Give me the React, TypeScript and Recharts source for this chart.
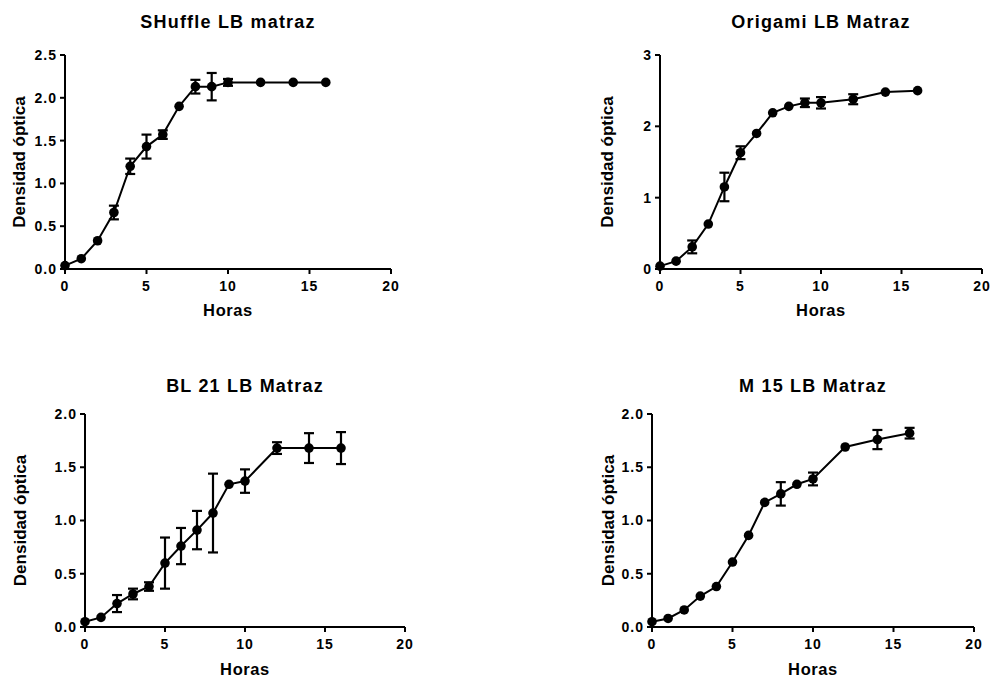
import React from 'react';
import { LineChart, Line, XAxis, YAxis, ErrorBar, Label } from 'recharts';

const hours = [0, 1, 2, 3, 4, 5, 6, 7, 8, 9, 10, 12, 14, 16];
const xTicks = [0, 5, 10, 15, 20];

const shuffleOD = [0.04, 0.12, 0.33, 0.66, 1.2, 1.43, 1.57, 1.9, 2.13, 2.13, 2.18, 2.18, 2.18, 2.18];
const shuffleErr = [null, null, null, 0.08, 0.09, 0.14, 0.05, null, 0.08, 0.16, 0.04, null, null, null];

const origamiOD = [0.04, 0.11, 0.31, 0.63, 1.15, 1.63, 1.9, 2.19, 2.28, 2.33, 2.33, 2.38, 2.48, 2.5];
const origamiErr = [null, null, 0.09, null, 0.2, 0.09, null, null, null, 0.06, 0.08, 0.07, null, null];

const bl21OD = [0.05, 0.09, 0.22, 0.31, 0.38, 0.6, 0.76, 0.91, 1.07, 1.34, 1.37, 1.68, 1.68, 1.68];
const bl21Err = [null, null, 0.08, 0.05, 0.04, 0.24, 0.17, 0.18, 0.37, null, 0.11, 0.055, 0.14, 0.15];

const m15OD = [0.05, 0.08, 0.16, 0.29, 0.38, 0.61, 0.86, 1.17, 1.25, 1.34, 1.39, 1.69, 1.76, 1.82];
const m15Err = [null, null, null, null, null, null, null, null, 0.11, null, 0.06, null, 0.09, 0.05];

const titles = ['SHuffle LB matraz', 'Origami LB Matraz', 'BL 21 LB Matraz', 'M 15 LB Matraz'];
const yLabel = 'Densidad óptica';
const xLabel = 'Horas';

const FONT = '"Liberation Sans", Arial, Helvetica, sans-serif';

type PanelProps = {
  title: string;
  od: number[];
  err: (number | null)[];
  yDomain: [number, number];
  yTicks: number[];
  decimals: number;
  left: number;
  top: number;
  width: number;
  height: number;
  yAxisWidth: number;
  marginTop: number;
  marginRight: number;
  xAxisHeight: number;
  marginBottom: number;
  yLabelOffset: number;
  titleTop: number;
};

function Panel(p: PanelProps) {
  const data = hours.map((h, i) => ({ x: h, y: p.od[i], e: p.err[i] }));
  const tickStyle = { fill: '#000', fontWeight: 700, fontSize: 14, fontFamily: FONT, letterSpacing: 1 };
  const plotLeft = p.yAxisWidth;
  const plotWidth = p.width - p.yAxisWidth - p.marginRight;
  return (
    <div style={{ position: 'absolute', left: p.left, top: p.top, width: p.width, height: p.height }}>
      <div
        style={{
          position: 'absolute',
          left: plotLeft - 20,
          width: plotWidth + 40,
          top: p.titleTop,
          textAlign: 'center',
          fontFamily: FONT,
          fontWeight: 700,
          fontSize: 18,
          letterSpacing: 1.2,
          color: '#000',
          lineHeight: '22px',
          whiteSpace: 'nowrap',
        }}
      >
        {p.title}
      </div>
      <LineChart
        width={p.width}
        height={p.height}
        data={data}
        margin={{ top: p.marginTop, right: p.marginRight, bottom: p.marginBottom, left: 0 }}
      >
        <XAxis
          dataKey="x"
          type="number"
          domain={[0, 20]}
          ticks={xTicks}
          height={p.xAxisHeight}
          axisLine={{ stroke: '#000', strokeWidth: 2 }}
          tickLine={{ stroke: '#000', strokeWidth: 2 }}
          tickSize={5}
          tickMargin={7}
          tick={tickStyle}
        >
          <Label
            value={xLabel}
            position="insideBottom"
            offset={0}
            style={{ fill: '#000', fontWeight: 700, fontSize: 16.5, fontFamily: FONT, letterSpacing: 0.6 }}
          />
        </XAxis>
        <YAxis
          type="number"
          domain={p.yDomain}
          ticks={p.yTicks}
          width={p.yAxisWidth}
          axisLine={{ stroke: '#000', strokeWidth: 2 }}
          tickLine={{ stroke: '#000', strokeWidth: 2 }}
          tickSize={5}
          tickMargin={3}
          tick={tickStyle}
          tickFormatter={(v: number) => v.toFixed(p.decimals)}
        >
          <Label
            value={yLabel}
            angle={-90}
            position="insideLeft"
            offset={p.yLabelOffset}
            style={{ fill: '#000', fontWeight: 700, fontSize: 17, fontFamily: FONT, textAnchor: 'middle' }}
          />
        </YAxis>
        <Line
          dataKey="y"
          stroke="#000"
          strokeWidth={2}
          dot={{ r: 4.8, fill: '#000', stroke: '#000', strokeWidth: 0 }}
          isAnimationActive={false}
        >
          <ErrorBar dataKey="e" direction="y" width={5} stroke="#000" strokeWidth={2.2} />
        </Line>
      </LineChart>
    </div>
  );
}

export default function App() {
  return (
    <div style={{ position: 'absolute', left: 0, top: 0, width: 992, height: 677, background: '#fff', overflow: 'hidden' }}>
      <Panel
        title={titles[0]}
        od={shuffleOD}
        err={shuffleErr}
        yDomain={[0, 2.5]}
        yTicks={[0, 0.5, 1, 1.5, 2, 2.5]}
        decimals={1}
        left={0}
        top={0}
        width={410}
        height={330}
        yAxisWidth={65}
        marginTop={55}
        marginRight={19}
        xAxisHeight={47}
        marginBottom={14}
        yLabelOffset={19}
        titleTop={11}
      />
      <Panel
        title={titles[1]}
        od={origamiOD}
        err={origamiErr}
        yDomain={[0, 3]}
        yTicks={[0, 1, 2, 3]}
        decimals={0}
        left={590}
        top={0}
        width={402}
        height={330}
        yAxisWidth={70}
        marginTop={55}
        marginRight={10}
        xAxisHeight={47}
        marginBottom={14}
        yLabelOffset={17}
        titleTop={11}
      />
      <Panel
        title={titles[2]}
        od={bl21OD}
        err={bl21Err}
        yDomain={[0, 2]}
        yTicks={[0, 0.5, 1, 1.5, 2]}
        decimals={1}
        left={0}
        top={360}
        width={420}
        height={317}
        yAxisWidth={85}
        marginTop={54}
        marginRight={15}
        xAxisHeight={48}
        marginBottom={2}
        yLabelOffset={20}
        titleTop={15}
      />
      <Panel
        title={titles[3]}
        od={m15OD}
        err={m15Err}
        yDomain={[0, 2]}
        yTicks={[0, 0.5, 1, 1.5, 2]}
        decimals={1}
        left={590}
        top={360}
        width={402}
        height={317}
        yAxisWidth={62}
        marginTop={54}
        marginRight={18}
        xAxisHeight={48}
        marginBottom={2}
        yLabelOffset={18}
        titleTop={15}
      />
    </div>
  );
}
